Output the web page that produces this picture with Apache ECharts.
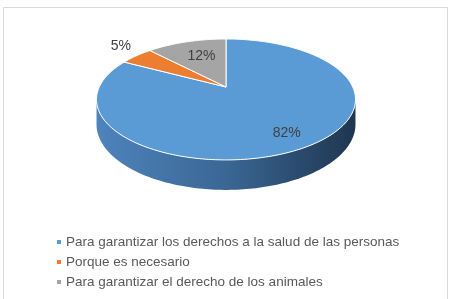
<!DOCTYPE html>
<html>
<head>
<meta charset="utf-8">
<script src="https://cdn.jsdelivr.net/npm/echarts@6/dist/echarts.min.js"></script>
<style>
  html, body { margin: 0; padding: 0; background: #fff; }
  #chart { width: 454px; height: 299px; }
</style>
</head>
<body>
<div id="chart"></div>
<script>
// datos del gráfico
const categories = [
  'Para garantizar los derechos a la salud de las personas',
  'Porque es necesario',
  'Para garantizar el derecho de los animales'
];
const values = [82, 5, 12];
const colors = ['#5b9bd5', '#ed7d31', '#a5a5a5'];

// geometría de la tarta 3D (perspectiva sencilla)
const CX = 226, CY = 87, RX = 126.7, RY = 57.9, K = 0.206, DEPTH = 23.8;
const total = values.reduce((a, b) => a + b, 0);
const starts = [];
values.reduce((acc, v) => { starts.push(acc); return acc + v; }, 0);

function proj(t, f, drop) {
  const u = Math.sin(t) * f, v = -Math.cos(t) * f;
  const s = 1 - K * v;
  return [CX + RX * u / s, CY + (RY * v + drop) / s];
}

function rim(t0, t1, f, drop) {
  const pts = [];
  const n = Math.max(2, Math.ceil((t1 - t0) / 0.02));
  for (let i = 0; i <= n; i++) pts.push(proj(t0 + (t1 - t0) * i / n, f, drop));
  return pts;
}

const labelPos = [
  { f: 0.8, dx: 0, dy: 0 },
  { f: 1.2, dx: 0, dy: -4 },
  { f: 0.58, dx: 0, dy: -3 }
];

const chart = echarts.init(document.getElementById('chart'), null, { renderer: 'canvas' });

const sideGrad = new echarts.graphic.LinearGradient(CX - RX * 1.03, 0, CX + RX * 1.03, 0, [
  { offset: 0, color: '#4f83bd' },
  { offset: 0.5, color: '#3a6794' },
  { offset: 1, color: '#1f3550' }
], true);

function renderSlice(params, api) {
  const i = params.dataIndex;
  const t0 = starts[i] / total * Math.PI * 2;
  const t1 = (starts[i] + api.value(0)) / total * Math.PI * 2;
  const children = [];

  // lateral visible (parte delantera)
  const tR = Math.acos(-K), tL = Math.PI * 2 - tR;
  const a = Math.max(t0, tR), b = Math.min(t1, tL);
  if (b > a) {
    const top = rim(a, b, 1, 0);
    const bottom = rim(a, b, 1, DEPTH).reverse();
    children.push({
      type: 'polygon',
      shape: { points: top.concat(bottom) },
      style: { fill: sideGrad, stroke: null }
    });
  }

  // cara superior
  children.push({
    type: 'polygon',
    shape: { points: [[CX, CY]].concat(rim(t0, t1, 1, 0)) },
    style: { fill: colors[i], stroke: '#ffffff', lineWidth: 1 }
  });

  // etiqueta
  const lp = labelPos[i];
  const tm = (t0 + t1) / 2;
  const p = proj(tm, lp.f, 0);
  children.push({
    type: 'text',
    style: {
      text: api.value(0) + '%',
      x: p[0] + lp.dx,
      y: p[1] + lp.dy,
      align: 'center',
      verticalAlign: 'middle',
      fill: '#404040',
      font: '14px "Liberation Sans", Arial, sans-serif'
    },
    z2: 10
  });

  return { type: 'group', children: children };
}

const option = {
  backgroundColor: '#ffffff',
  animation: false,
  color: colors,
  graphic: [
    {
      type: 'rect',
      shape: { x: 3.5, y: 7.5, width: 444, height: 300 },
      style: { fill: null, stroke: '#d9d9d9', lineWidth: 1 },
      silent: true
    }
  ],
  legend: {
    orient: 'vertical',
    left: 57,
    top: 235,
    padding: 0,
    icon: 'rect',
    itemWidth: 4,
    itemHeight: 4,
    itemGap: 6,
    data: categories,
    textStyle: {
      color: '#595959',
      fontSize: 13.5,
      lineHeight: 14,
      fontFamily: '"Liberation Sans", Arial, sans-serif'
    }
  },
  series: [
    {
      // serie oculta solo para la leyenda
      type: 'pie',
      radius: [0, 0],
      center: [CX, CY],
      silent: true,
      label: { show: false },
      labelLine: { show: false },
      data: categories.map((name, i) => ({ name: name, value: values[i] }))
    },
    {
      type: 'custom',
      coordinateSystem: 'none',
      renderItem: renderSlice,
      data: values.map((v, i) => ({ name: categories[i], value: [v] }))
    }
  ]
};

chart.setOption(option);
</script>
</body>
</html>
